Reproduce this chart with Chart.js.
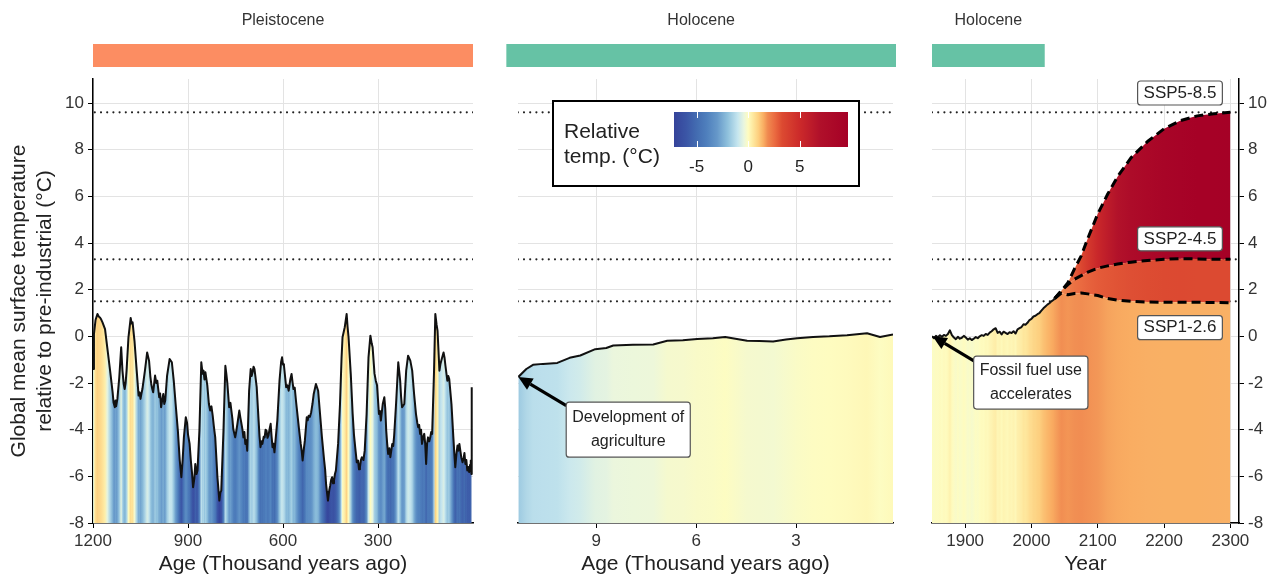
<!DOCTYPE html>
<html lang="en">
<head>
<meta charset="UTF-8">
<title>Global mean surface temperature</title>
<script src="https://cdn.jsdelivr.net/npm/chart.js"></script>
<style>
    body { margin: 0; background: #fff; font-family: Arial, "Liberation Sans", sans-serif; }
    #wrap { position: relative; width: 1275px; height: 579px; }
    canvas { position: absolute; top: 0; }
</style>
</head>
<body>
<div id="wrap">
    <canvas id="pleisto" width="480" height="579" style="left:0"></canvas>
    <canvas id="holo" width="430" height="579" style="left:480px"></canvas>
    <canvas id="future" width="365" height="579" style="left:910px"></canvas>
</div>

<script>
// ---- data ----
const pleistoAge = [1200, 1197, 1192, 1186, 1182, 1178, 1174, 1170, 1162, 1155, 1146, 1138, 1135, 1131, 1129, 1127, 1123, 1117, 1111, 1107, 1103, 1100, 1097, 1094,
    1088, 1081, 1078, 1075, 1069, 1062, 1056, 1053, 1050, 1047, 1044, 1036, 1029, 1023, 1019, 1016, 1013, 1010, 1004, 1000, 997, 991, 988, 985, 981, 978, 975, 972, 966,
    958, 951, 945, 939, 932, 926, 921, 917, 913, 907, 903, 900, 895, 891, 887, 884, 880, 877, 873, 870, 864, 858, 854, 851, 848, 845, 839, 834, 830,
    826, 822, 818, 814, 807, 801, 798, 795, 788, 782, 779, 776, 770, 766, 763, 760, 757, 751, 748, 744, 738, 735, 732, 728, 725, 722, 719, 716, 713, 707, 702,
    699, 696, 693, 690, 683, 677, 674, 671, 668, 665, 661, 658, 655, 652, 649, 646, 642, 639, 636, 633, 630, 627, 618, 611, 606, 603, 600, 597, 590, 586, 582, 577, 573, 570, 567,
    563, 559, 550, 544, 541, 538, 534, 531, 525, 522, 519, 515, 511, 507, 503, 496, 489, 483, 477, 470, 467, 464, 461, 458, 454, 451, 448, 445, 442, 439, 436, 433,
    426, 420, 415, 412, 405, 399, 396, 393, 386, 380, 376, 372, 367, 363, 360, 357, 354, 351, 346, 342, 336, 330, 324, 320, 317, 311, 307, 303, 297,
    294, 291, 285, 280, 277, 274, 271, 268, 264, 261, 258, 255, 252, 249, 243, 236, 233, 230, 227, 224, 217, 211, 205, 198, 192, 186, 180, 176, 173,
    170, 167, 164, 161, 157, 154, 151, 148, 145, 142, 138, 135, 132, 129, 123, 119, 115, 112, 106, 103, 100, 93, 90, 87, 81, 78, 75, 68, 62, 59, 56, 52, 49,
    46, 43, 40, 37, 33, 30, 27, 24, 21, 18, 15, 12, 9, 7, 5, 4];
const pleistoTemp = [-1.4, 0.1, 0.7, 0.96, 0.85, 0.81, 0.72, 0.6, 0.31, -0.47, -1.47, -2.4, -2.85, -3.04, -2.75, -3.0, -2.68, -1.76, -0.47, -1.47, -2.05, -2.26, -2.0, -1.47,
    -0.04, 0.79, 0.55, 0.6, -0.19, -1.47, -2.54, -2.4, -2.68, -2.45, -2.26, -1.47, -0.69, -1.04, -1.7, -2.04, -2.25, -2.4, -1.68, -2.0, -1.9, -2.61, -2.45, -3.04, -2.7, -2.47, -2.9, -2.76, -1.68,
    -0.97, -1.11, -1.9, -2.9, -4.04, -5.32, -6.04, -5.3, -4.33, -3.47, -3.7, -4.2, -4.6, -5.32, -5.9, -6.47, -6.1, -5.47, -5.9, -5.75, -4.04, -1.11, -1.6, -1.47, -1.85, -1.54, -2.1, -2.9, -3.18,
    -3.0, -3.4, -3.9, -4.33, -6.04, -7.04, -6.7, -6.61, -4.04, -1.26, -1.6, -1.97, -3.04, -2.85, -3.18, -3.5, -3.97, -4.33, -4.1, -3.75, -3.18, -3.45, -3.68, -4.0, -4.33, -4.1, -4.61, -4.45, -4.9, -2.33, -1.4,
    -1.7, -1.54, -1.3, -1.4, -2.18, -3.61, -4.3, -4.75, -4.5, -4.61, -4.3, -4.33, -4.0, -4.04, -4.35, -4.25, -3.95, -3.75, -4.3, -4.75, -4.6, -4.97, -3.61, -1.9, -1.1, -0.9, -1.2, -1.25, -2.18, -2.1, -2.33, -1.85, -1.61, -1.95, -2.26,
    -2.2, -2.76, -3.9, -4.61, -4.9, -5.32, -4.8, -4.47, -3.47, -3.6, -3.4, -3.45, -3.25, -2.9, -2.47, -2.04, -2.33, -3.33, -4.33, -5.32, -5.7, -6.32, -6.7, -7.04, -6.6, -6.4, -6.15, -6.04, -6.3, -6.18, -5.9, -5.75,
    -4.61, -2.9, -0.9, -0.04, 0.39, 0.96, 0.4, -0.04, -1.61, -3.33, -4.2, -4.75, -5.4, -5.32, -5.7, -5.61, -5.3, -5.18, -5.3, -4.9, -3.33, -0.9, 0.03, -0.3, -0.47, -1.6, -1.9, -2.1, -3.33,
    -3.2, -3.61, -2.9, -2.61, -3.1, -4.04, -4.6, -5.04, -4.8, -5.18, -4.9, -4.61, -4.7, -4.25, -2.9, -1.11, -1.5, -1.9, -2.6, -3.04, -2.9, -1.47, -0.83, -1.04, -1.47, -2.47, -3.33, -3.7, -3.9,
    -3.8, -4.18, -4.0, -4.61, -4.3, -4.18, -4.6, -5.47, -4.6, -4.33, -4.5, -4.33, -4.1, -4.18, -1.47, 0.96, 0.5, 0.24, -1.47, -1.2, -1.04, -0.69, -0.9, -1.26, -1.9, -1.7, -1.83, -2.9, -4.33, -5.0, -5.61, -5.0, -4.68,
    -4.9, -4.61, -4.9, -5.18, -5.4, -5.25, -5.0, -5.47, -5.3, -5.75, -5.6, -5.82, -5.5, -5.32, -5.9, -2.18];

const holoAge = [11.34, 11.1, 10.9, 10.6, 10.17, 9.8, 9.48, 9.03, 8.7, 8.49, 7.9, 7.29, 6.87, 6.4, 5.97, 5.5, 5.13, 4.47, 4.1, 3.69, 3.3, 2.97, 2.49, 2.0, 1.47, 0.87, 0.48, 0.09];
const holoTemp = [-1.74, -1.4, -1.22, -1.18, -1.14, -0.92, -0.82, -0.55, -0.5, -0.39, -0.36, -0.35, -0.19, -0.17, -0.11, -0.08, -0.03, -0.19, -0.2, -0.22, -0.14, -0.08, -0.03, 0.0, 0.05, 0.13, -0.03, 0.08];

const histYear = [1850, 1853, 1856, 1859, 1862, 1865, 1868, 1871, 1874, 1877, 1880, 1883, 1886, 1889, 1892, 1895, 1898, 1901, 1904, 1907,
    1910, 1913, 1916, 1919, 1922, 1925, 1928, 1931, 1934, 1937, 1940, 1943, 1946, 1949, 1952, 1955, 1958, 1961, 1964, 1967,
    1970, 1973, 1976, 1979, 1982, 1985, 1988, 1991, 1994, 1997, 2000, 2003, 2006, 2009, 2012, 2015, 2018, 2021, 2024, 2027, 2030, 2033, 2035];
const histTemp = [0.0, -0.08, 0.02, -0.04, 0.05, -0.02, 0.06, 0.02, 0.1, 0.26, 0.05, -0.05, -0.12, -0.02, -0.1, -0.06, 0.02, -0.05, -0.14, -0.08,
    -0.16, -0.1, -0.03, -0.08, 0.0, 0.05, 0.02, 0.1, 0.06, 0.16, 0.22, 0.3, 0.35, 0.15, 0.2, 0.08, 0.2, 0.15, 0.1, 0.18,
    0.14, 0.22, 0.12, 0.3, 0.35, 0.4, 0.52, 0.5, 0.58, 0.7, 0.75, 0.85, 0.88, 0.95, 1.0, 1.1, 1.2, 1.28, 1.36, 1.42, 1.5, 1.56, 1.62];

const sspYear = [2035, 2045, 2055, 2065, 2075, 2085, 2100, 2115, 2130, 2150, 2175, 2200, 2225, 2250, 2275, 2300];
const ssp126 = [1.62, 1.85, 1.78, 1.84, 1.86, 1.82, 1.75, 1.62, 1.55, 1.5, 1.47, 1.46, 1.46, 1.46, 1.45, 1.44];
const ssp245 = [1.62, 1.95, 2.22, 2.45, 2.6, 2.75, 2.92, 3.02, 3.1, 3.18, 3.25, 3.3, 3.33, 3.32, 3.3, 3.3];
const ssp585 = [1.62, 1.95, 2.3, 2.9, 3.45, 4.2, 5.25, 6.1, 6.85, 7.65, 8.35, 8.9, 9.25, 9.45, 9.54, 9.6];

const scenarioLevels = [9.6, 3.3, 1.5];
const tempTicks = [-8, -6, -4, -2, 0, 2, 4, 6, 8, 10];
const pleistoTicks = [1200, 900, 600, 300];
const holoTicks = [9, 6, 3];
const yearTicks = [1900, 2000, 2100, 2200, 2300];
const colorbarTicks = [-5, 0, 5];

// colour scale for relative temperature
const cmapStops = [
    [-7.2, '#35439a'], [-6, '#3b56a6'], [-5, '#436cb1'], [-4, '#4f80bd'], [-3, '#6698c9'],
    [-2, '#8ec0dc'], [-1, '#c6e6ef'], [-0.4, '#eaf6de'], [0, '#fefcc0'], [0.5, '#fee79d'],
    [1.0, '#fdcf7f'], [1.5, '#f9ad62'], [1.9, '#f08a50'], [2.6, '#ea6a40'], [3.3, '#dc4a31'],
    [5, '#cc2a2a'], [7, '#b0102a'], [9.7, '#a50026']
];

function hexToRgb(h) {
    const n = parseInt(h.slice(1), 16);
    return [(n >> 16) & 255, (n >> 8) & 255, n & 255];
}

function tempColor(t) {
    const s = cmapStops;
    if (t <= s[0][0]) return s[0][1];
    for (let i = 1; i < s.length; i++) {
        if (t <= s[i][0]) {
            const f = (t - s[i - 1][0]) / (s[i][0] - s[i - 1][0]);
            const a = hexToRgb(s[i - 1][1]), b = hexToRgb(s[i][1]);
            return 'rgb(' + a.map((v, k) => Math.round(v + (b[k] - v) * f)).join(',') + ')';
        }
    }
    return s[s.length - 1][1];
}

// horizontal gradient following the temperature of each sample
const gradCache = {};
function tempGradient(key, xs, ts) {
    return (c) => {
        const chart = c.chart;
        const area = chart.chartArea;
        if (!area) return 'transparent';
        const k = key + area.left + '_' + area.right;
        if (gradCache[k]) return gradCache[k];
        const g = chart.ctx.createLinearGradient(area.left, 0, area.right, 0);
        const w = area.right - area.left;
        xs.forEach((x, i) => {
            const f = (chart.scales.x.getPixelForValue(x) - area.left) / w;
            if (f >= 0 && f <= 1) g.addColorStop(f, tempColor(ts[i]));
        });
        gradCache[k] = g;
        return g;
    };
}

const pts = (xs, ys) => xs.map((x, i) => ({ x: x, y: ys[i] }));

Chart.defaults.font.family = 'Arial, "Liberation Sans", sans-serif';
Chart.defaults.color = '#333';

const gridColor = '#e3e3e3';
const tickFont = { size: 17 };

function levelSets(xmin, xmax) {
    return scenarioLevels.map(l => ({
        data: [{ x: xmin, y: l }, { x: xmax, y: l }],
        borderColor: '#222', borderWidth: 2.2, borderDash: [0, 6.2], borderCapStyle: 'round',
        pointRadius: 0, fill: false, order: 9
    }));
}

function xAxis(min, max, ticks, title, reverse) {
    return {
        type: 'linear', min: min, max: max, reverse: !!reverse,
        afterBuildTicks: s => { s.ticks = ticks.map(v => ({ value: v })); },
        afterFit: s => { s.height = 56; },
        grid: { color: gridColor, tickColor: '#000', tickLength: 5 },
        border: { color: '#000', width: 1.5 },
        ticks: { font: tickFont, color: '#333', padding: 3, maxRotation: 0, autoSkip: false, callback: v => v },
        title: { display: true, text: title, font: { size: 21 }, color: '#222', padding: { top: 0, bottom: 2 } }
    };
}

function yAxis(extra) {
    return Object.assign({
        min: -8, max: 11.03,
        afterBuildTicks: s => { s.ticks = tempTicks.map(v => ({ value: v })); },
        grid: { color: gridColor, tickColor: '#000', tickLength: 5 },
        border: { color: '#000', width: 1.5 },
        ticks: { font: tickFont, color: '#333', padding: 4, callback: v => v }
    }, extra);
}

// epoch bar and its name above each panel
const headerPlugin = {
    id: 'header',
    afterDraw(chart, args, o) {
        const { ctx } = chart;
        const x = chart.scales.x;
        const x1 = x.getPixelForValue(o.from), x2 = x.getPixelForValue(o.to);
        ctx.save();
        ctx.fillStyle = o.color;
        ctx.fillRect(Math.min(x1, x2), 44, Math.abs(x2 - x1), 23);
        ctx.fillStyle = '#333';
        ctx.font = '16px Arial, "Liberation Sans", sans-serif';
        ctx.textAlign = 'center';
        ctx.textBaseline = 'middle';
        ctx.fillText(o.label, (x1 + x2) / 2, 21);
        ctx.restore();
    }
};

function drawArrow(ctx, x1, y1, x2, y2) {
    const a = Math.atan2(y2 - y1, x2 - x1);
    const hl = 14, hw = 6.5;
    const bx = x2 - hl * Math.cos(a), by = y2 - hl * Math.sin(a);
    ctx.save();
    ctx.strokeStyle = '#000';
    ctx.fillStyle = '#000';
    ctx.lineWidth = 3.2;
    ctx.beginPath();
    ctx.moveTo(x1, y1);
    ctx.lineTo(bx, by);
    ctx.stroke();
    ctx.beginPath();
    ctx.moveTo(x2, y2);
    ctx.lineTo(bx + hw * Math.sin(a), by - hw * Math.cos(a));
    ctx.lineTo(bx - hw * Math.sin(a), by + hw * Math.cos(a));
    ctx.closePath();
    ctx.fill();
    ctx.restore();
}

function drawBox(ctx, cx, cy, lines, size, lineH, h) {
    ctx.save();
    ctx.font = size + 'px Arial, "Liberation Sans", sans-serif';
    const w = Math.max(...lines.map(l => ctx.measureText(l).width)) + 12;
    ctx.beginPath();
    ctx.roundRect(cx - w / 2, cy - h / 2, w, h, 3);
    ctx.fillStyle = '#fff';
    ctx.fill();
    ctx.strokeStyle = '#555';
    ctx.lineWidth = 1.2;
    ctx.stroke();
    ctx.fillStyle = '#222';
    ctx.textAlign = 'center';
    ctx.textBaseline = 'middle';
    lines.forEach((l, i) => ctx.fillText(l, cx, cy + (i - (lines.length - 1) / 2) * lineH));
    ctx.restore();
}

// text boxes and arrows given in data coordinates
const notesPlugin = {
    id: 'notes',
    afterDatasetsDraw(chart, args, o) {
        const { ctx } = chart;
        const sx = chart.scales.x, sy = chart.scales.y;
        (o.arrows || []).forEach(a => drawArrow(ctx,
            sx.getPixelForValue(a.x1), sy.getPixelForValue(a.y1),
            sx.getPixelForValue(a.x2), sy.getPixelForValue(a.y2)));
        (o.boxes || []).forEach(b => drawBox(ctx, sx.getPixelForValue(b.x), sy.getPixelForValue(b.y),
            b.lines, b.size, b.lineH, b.h));
    }
};

// colour bar legend in the middle panel
const colorbarPlugin = {
    id: 'colorbar',
    afterDraw(chart) {
        const { ctx } = chart;
        const bx = 73, by = 101, bw = 306, bh = 85;
        const cx0 = 194, cx1 = 368, cy0 = 112, cy1 = 147;
        const vmin = -7.2, vmax = 9.7;
        const px = v => cx0 + (v - vmin) / (vmax - vmin) * (cx1 - cx0);
        ctx.save();
        ctx.fillStyle = '#fff';
        ctx.fillRect(bx, by, bw, bh);
        ctx.strokeStyle = '#000';
        ctx.lineWidth = 2;
        ctx.strokeRect(bx, by, bw, bh);
        const g = ctx.createLinearGradient(cx0, 0, cx1, 0);
        cmapStops.forEach(s => g.addColorStop((s[0] - vmin) / (vmax - vmin), s[1]));
        ctx.fillStyle = g;
        ctx.fillRect(cx0, cy0, cx1 - cx0, cy1 - cy0);
        ctx.strokeStyle = '#fff';
        ctx.lineWidth = 1;
        colorbarTicks.forEach(v => {
            const x = Math.round(px(v)) + 0.5;
            ctx.beginPath();
            ctx.moveTo(x, cy0); ctx.lineTo(x, cy0 + 6);
            ctx.moveTo(x, cy1 - 6); ctx.lineTo(x, cy1);
            ctx.stroke();
        });
        ctx.fillStyle = '#222';
        ctx.textBaseline = 'middle';
        ctx.font = '21px Arial, "Liberation Sans", sans-serif';
        ctx.textAlign = 'left';
        ctx.fillText('Relative', 84, 132);
        ctx.fillText('temp. (°C)', 84, 157);
        ctx.font = '17px Arial, "Liberation Sans", sans-serif';
        ctx.textAlign = 'center';
        colorbarTicks.forEach(v => ctx.fillText(String(v), px(v), 167));
        ctx.restore();
    }
};

const baseOpts = {
    responsive: false,
    animation: false,
    devicePixelRatio: 1,
    elements: { point: { radius: 0 }, line: { tension: 0, borderJoinStyle: 'round' } },
    events: []
};

// ---- Pleistocene panel ----
new Chart(document.getElementById('pleisto'), {
    type: 'line',
    data: {
        datasets: [{
            data: pts(pleistoAge, pleistoTemp),
            borderColor: '#111', borderWidth: 2,
            backgroundColor: tempGradient('pleisto', pleistoAge, pleistoTemp),
            fill: 'start', order: 0
        }].concat(levelSets(0, 1200))
    },
    options: Object.assign({}, baseOpts, {
        layout: { padding: { top: 79, right: 7, left: 0, bottom: 0 } },
        scales: {
            x: xAxis(0, 1200, pleistoTicks, 'Age (Thousand years ago)', true),
            y: yAxis({
                afterFit: s => { s.width = 93; },
                title: {
                    display: true,
                    text: ['Global mean surface temperature', 'relative to pre-industrial (°C)'],
                    font: { size: 21, lineHeight: 1.2 }, color: '#222', padding: { top: 7, bottom: 0 }
                }
            })
        },
        plugins: {
            legend: { display: false }, tooltip: { enabled: false },
            header: { label: 'Pleistocene', from: 1200, to: 0, color: '#fc8d62' }
        }
    }),
    plugins: [headerPlugin]
});

// ---- Holocene panel ----
new Chart(document.getElementById('holo'), {
    type: 'line',
    data: {
        datasets: [{
            data: pts(holoAge, holoTemp),
            borderColor: '#111', borderWidth: 2,
            backgroundColor: tempGradient('holo', holoAge, holoTemp),
            fill: 'start', order: 0
        }].concat(levelSets(0, 12))
    },
    options: Object.assign({}, baseOpts, {
        layout: { padding: { top: 79, right: 17, left: 0, bottom: 0 } },
        scales: {
            x: xAxis(0.09, 11.35, holoTicks, 'Age (Thousand years ago)', true),
            y: yAxis({
                afterFit: s => { s.width = 38; },
                grid: { color: gridColor, drawTicks: false },
                border: { display: false },
                ticks: { display: false }
            })
        },
        plugins: {
            legend: { display: false }, tooltip: { enabled: false },
            header: { label: 'Holocene', from: 11.7, to: 0, color: '#66c2a5' },
            notes: {
                arrows: [{ x1: 9.9, y1: -2.97, x2: 11.34, y2: -1.74 }],
                boxes: [{ x: 8.04, y: -4.0, lines: ['Development of', 'agriculture'], size: 16, lineH: 24, h: 55 }]
            }
        }
    }),
    plugins: [headerPlugin, notesPlugin, colorbarPlugin]
});

// ---- historical and projected panel ----
// lowest band: observed record followed by SSP1-2.6, one continuous fill
const lowYear = histYear.concat(sspYear.slice(1));
const lowTemp = histTemp.concat(ssp126.slice(1));
const fillOnly = { borderWidth: 0, borderColor: 'transparent', order: 5 };
const dashed = { borderColor: '#000', borderWidth: 3, borderDash: [9, 5], fill: false, order: 1 };
new Chart(document.getElementById('future'), {
    type: 'line',
    data: {
        datasets: [
            Object.assign({ data: pts(lowYear, lowTemp), backgroundColor: tempGradient('low', lowYear, lowTemp), fill: 'start' }, fillOnly),
            Object.assign({ data: pts(sspYear, ssp245), backgroundColor: tempGradient('s245', sspYear, ssp245), fill: 0 }, fillOnly),
            Object.assign({ data: pts(sspYear, ssp585), backgroundColor: tempGradient('s585', sspYear, ssp585), fill: 1 }, fillOnly),
            { data: pts(histYear, histTemp), borderColor: '#111', borderWidth: 2, fill: false, order: 0 },
            Object.assign({ data: pts(sspYear, ssp126) }, dashed),
            Object.assign({ data: pts(sspYear, ssp245) }, dashed),
            Object.assign({ data: pts(sspYear, ssp585) }, dashed)
        ].concat(levelSets(1850, 2313))
    },
    options: Object.assign({}, baseOpts, {
        layout: { padding: { top: 79, right: 0, left: 22, bottom: 0 } },
        scales: {
            x: xAxis(1850, 2313, yearTicks, 'Year', false),
            y: yAxis({ position: 'right', afterFit: s => { s.width = 36; } })
        },
        plugins: {
            legend: { display: false }, tooltip: { enabled: false },
            header: { label: 'Holocene', from: 1850, to: 2020, color: '#66c2a5' },
            notes: {
                arrows: [{ x1: 1915, y1: -1.08, x2: 1851, y2: 0 }],
                boxes: [
                    { x: 1999, y: -1.98, lines: ['Fossil fuel use', 'accelerates'], size: 16, lineH: 24, h: 53 },
                    { x: 2224, y: 10.43, lines: ['SSP5-8.5'], size: 17, lineH: 20, h: 24 },
                    { x: 2224, y: 4.18, lines: ['SSP2-4.5'], size: 17, lineH: 20, h: 24 },
                    { x: 2224, y: 0.37, lines: ['SSP1-2.6'], size: 17, lineH: 20, h: 24 }
                ]
            }
        }
    }),
    plugins: [headerPlugin, notesPlugin]
});
</script>
</body>
</html>
